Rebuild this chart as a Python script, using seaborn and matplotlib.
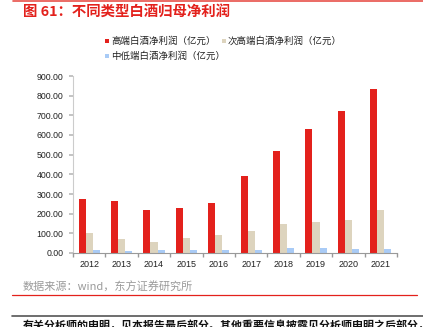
import matplotlib
matplotlib.use("Agg")
import matplotlib.pyplot as plt
import seaborn as sns
import pandas as pd
import numpy as np
from matplotlib.lines import Line2D
from matplotlib.patches import Rectangle

years = ["2012", "2013", "2014", "2015", "2016", "2017", "2018", "2019", "2020", "2021"]
high_end = [273, 263, 219, 229, 253, 390, 519, 629, 723, 834]
sub_high = [103, 71, 58, 78, 91, 112, 149, 159, 168, 219]
mid_low = [15, 12, 14, 14, 17, 15, 25, 24, 20, 20]
series_names = ["高端白酒净利润（亿元）", "次高端白酒净利润（亿元）", "中低端白酒净利润（亿元）"]
colors = ["#E3211C", "#DDD4BE", "#A9CBF6"]
y_ticks = [0, 100, 200, 300, 400, 500, 600, 700, 800, 900]

sns.set_theme(style="white")
plt.rcParams['font.family'] = ['Noto Sans CJK SC', 'DejaVu Sans']

df = pd.DataFrame({
    "year": years * 3,
    "value": high_end + sub_high + mid_low,
    "series": [series_names[0]] * 10 + [series_names[1]] * 10 + [series_names[2]] * 10,
})

W, H = 423, 327
fig = plt.figure(figsize=(W / 100, H / 100), dpi=100)
ax = fig.add_axes([73 / W, 1 - 253 / H, (397 - 73) / W, (253 - 76) / H])

sns.barplot(data=df, x="year", y="value", hue="series", palette=colors,
            width=0.66, ax=ax, legend=False, saturation=1, errorbar=None,
            linewidth=0, edgecolor="none")

ax.set_xlim(-0.5, 9.5)
ax.set_ylim(0, 900)
ax.set_yticks(y_ticks)
ax.set_yticklabels([f"{v:.2f}" for v in y_ticks], fontsize=6.3, family=['Liberation Sans'], color="#222222")
ax.set_xticks(range(10))
ax.set_xticklabels(years, fontsize=6.5, family=['Liberation Sans'], color="#222222")
ax.set_xticks(np.arange(-0.5, 10, 1), minor=True)
ax.tick_params(axis='x', which='major', length=0, pad=5)
ax.tick_params(axis='x', which='minor', length=3, color="#999999", direction='out', bottom=True)
ax.tick_params(axis='y', which='major', length=3, color="#BBBBBB", direction='out', left=True, pad=4)
ax.set_xlabel("")
ax.set_ylabel("")
for s in ["top", "right"]:
    ax.spines[s].set_visible(False)
ax.spines["left"].set_color("#CCCCCC")
ax.spines["bottom"].set_color("#999999")
ax.spines["left"].set_linewidth(0.8)
ax.spines["bottom"].set_linewidth(0.8)

def fx(px):
    return px / W

def fy(py):
    return 1 - py / H

# top red line
fig.add_artist(Line2D([fx(13), fx(423)], [fy(0.7), fy(0.7)], color="#E8524A", lw=1.2))
fig.text(fx(23), fy(12), "图 61：不同类型白酒归母净利润", fontsize=10.4, fontweight='bold',
         color="#E3211C", va='center', ha='left')

# legend
leg_items = [(104.5, 111, 41, 0), (221.7, 228, 41, 1), (104.5, 111, 56, 2)]
for sx, tx, y, i in leg_items:
    fig.add_artist(Rectangle((fx(sx), fy(y + 2)), 4 / W, 4 / H, transform=fig.transFigure,
                             facecolor=colors[i], edgecolor="none"))
    fig.text(fx(tx), fy(y), series_names[i], fontsize=6.8, color="#222222", va='center', ha='left')

fig.text(fx(23), fy(287), "数据来源：wind，东方证券研究所", fontsize=8.0, color="#9A9A9A",
         va='center', ha='left')
fig.add_artist(Line2D([fx(12), fx(417)], [fy(294.5), fy(294.5)], color="#E3211C", lw=0.9))
fig.add_artist(Line2D([fx(12), fx(423)], [fy(315.5), fy(315.5)], color="#555555", lw=1.2))
fig.text(fx(23), fy(320), "有关分析师的申明，见本报告最后部分。其他重要信息披露见分析师申明之后部分，或请与您的投资代表联系。",
         fontsize=7.9, fontweight='bold', color="#111111", va='top', ha='left')

fig.savefig("out.png", dpi=100)
